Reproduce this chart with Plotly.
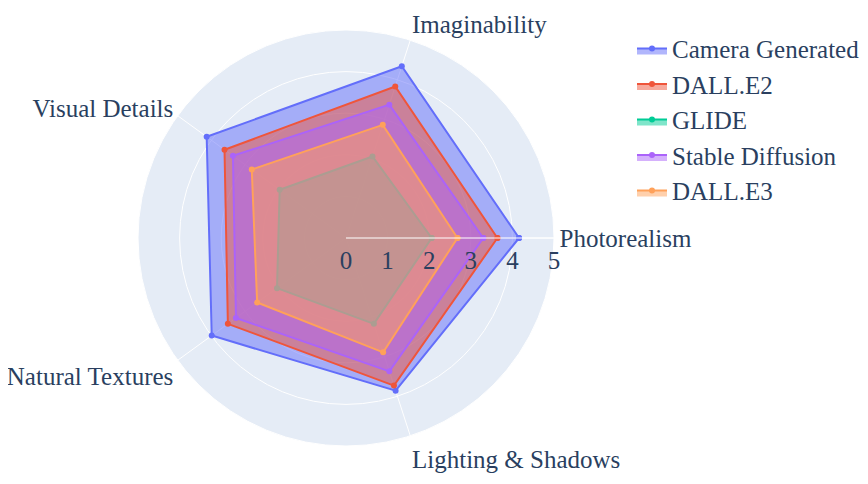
import plotly.graph_objects as go

categories = ["Photorealism", "Imaginability", "Visual Details", "Natural Textures", "Lighting & Shadows"]
series_names = ["Camera Generated", "DALL.E2", "GLIDE", "Stable Diffusion", "DALL.E3"]
camera = [4.16, 4.34, 4.14, 3.99, 3.86]
dalle2 = [3.64, 3.83, 3.61, 3.51, 3.73]
glide = [2.06, 2.06, 1.97, 2.05, 2.17]
stable = [3.30, 3.37, 3.36, 3.27, 3.37]
dalle3 = [2.68, 2.86, 2.80, 2.64, 2.89]
radial_ticks = [0, 1, 2, 3, 4, 5]

fig = go.Figure()
for name, vals in zip(series_names, [camera, dalle2, glide, stable, dalle3]):
    fig.add_trace(go.Scatterpolar(
        r=vals + vals[:1],
        theta=categories + categories[:1],
        fill="toself",
        mode="lines+markers",
        name=name,
    ))

fig.update_layout(
    width=868, height=484,
    font=dict(family="Liberation Serif, Times New Roman, serif", size=25),
    margin=dict(l=52, r=244, t=22, b=46, autoexpand=False),
    polar=dict(
        radialaxis=dict(visible=True, range=[0, 5], tickvals=radial_ticks),
    ),
    legend=dict(x=1.0, y=1.01, yanchor="top", bgcolor="rgba(0,0,0,0)"),
    showlegend=True,
)
fig.write_html("out.html")
